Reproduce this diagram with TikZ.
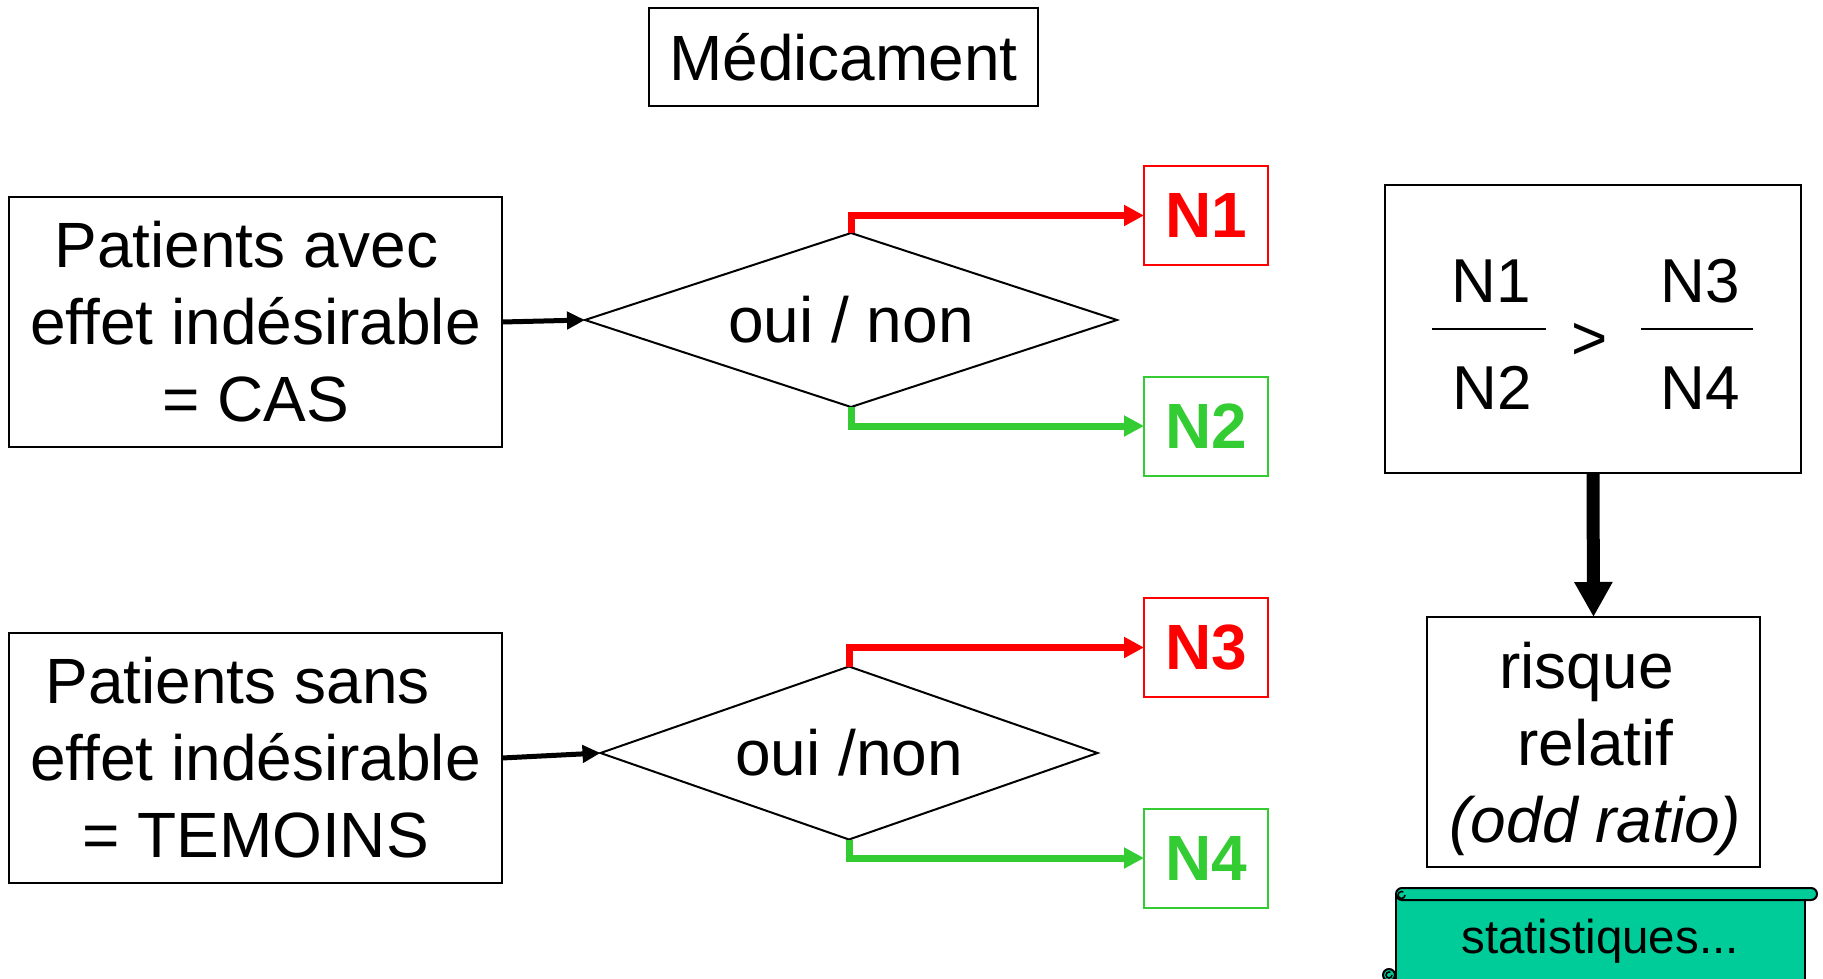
\documentclass[tikz,border=0pt]{standalone}
\usepackage{fontspec}
\setmainfont{Liberation Sans}
\usetikzlibrary{arrows.meta,shapes.geometric}
\definecolor{nred}{RGB}{255,0,0}
\definecolor{ngreen}{RGB}{51,204,51}
\definecolor{scrollgreen}{RGB}{0,204,153}

\begin{document}
\begin{tikzpicture}[x=1pt,y=-1pt,
  every node/.style={font=\fontsize{64}{77}\selectfont, inner sep=0pt, outer sep=0pt},
  box/.style={draw, line width=2pt, align=center},
  decision/.style={draw, line width=2pt, diamond, shape aspect=3},
  nbox/.style={draw=#1, text=#1, line width=2pt, minimum width=124, minimum height=99,
               font=\fontsize{64}{77}\selectfont\bfseries},
  fracpart/.style={anchor=base, font=\fontsize{62}{74}\selectfont},
  feed/.style={line width=5pt, -{Triangle[length=18pt,width=17pt]}},
  branch/.style={draw=#1, line width=7pt, -{Triangle[length=20pt,width=20pt]}},
  bigarrow/.style={line width=13pt, -{Triangle[length=35pt,width=36pt]}}
]
\useasboundingbox (0,0) rectangle (1823,979);

% title
\node[box, minimum width=389, minimum height=98] (med) at (843.5,57) {Médicament};

% the two patient groups
\node[box, minimum width=493, minimum height=250] (cas) at (255.5,322)
  {Patients avec\kern0.28em\\effet indésirable\\= CAS};
\node[box, minimum width=493, minimum height=250] (tem) at (255.5,758)
  {Patients sans\kern0.56em\\effet indésirable\\= TEMOINS};

% exposure questions
\node[decision, minimum width=532, minimum height=174] (d1) at (851,320) {oui / non};
\node[decision, minimum width=497, minimum height=173] (d2) at (849,753) {oui /non};

% counts
\node[nbox=nred]   (n1) at (1206,215.5) {N1};
\node[nbox=ngreen] (n2) at (1206,426)   {N2};
\node[nbox=nred]   (n3) at (1206,647.5) {N3};
\node[nbox=ngreen] (n4) at (1206,858)   {N4};

% connectors
\draw[feed] (cas.east) -- (d1.west);
\draw[feed] (tem.east) -- (d2.west);
\draw[branch=nred]   (d1.north) |- (n1.west);
\draw[branch=ngreen] (d1.south) |- (n2.west);
\draw[branch=nred]   (d2.north) |- (n3.west);
\draw[branch=ngreen] (d2.south) |- (n4.west);

% ratio comparison
\node[box, minimum width=416, minimum height=288] (ratio) at (1593,329) {};
\node[fracpart] (f1) at (1491,302) {N1};
\node[fracpart] (f2) at (1492,409) {N2};
\node[fracpart] (f3) at (1700,302) {N3};
\node[fracpart] (f4) at (1700,409) {N4};
\node[fracpart] (gt) at (1590,359) {>};
\draw[line width=2pt] (1432,329) -- (1546,329);
\draw[line width=2pt] (1641,329) -- (1753,329);

% result
\node[box, minimum width=333, minimum height=250] (rr) at (1593.5,742) {};
\node[align=center] (rrtext) at ([yshift=-7pt, xshift=2pt]rr.center)
  {risque\kern0.28em\\relatif\\\textit{(odd ratio)}};
\draw[bigarrow] (ratio.south) -- (rr.north);

% scroll banner
\draw[line width=2pt, fill=scrollgreen] (1396,894) rectangle (1805,1000);
\draw[line width=2pt, fill=scrollgreen, rounded corners=6pt] (1396,888) rectangle (1817,900);
\draw[line width=1.6pt] (1405,895) arc (0:300:3.5);
\draw[line width=2pt, fill=scrollgreen] (1389,975) circle (6);
\draw[line width=1.6pt] (1392,975) arc (0:300:3);
\node[anchor=base, font=\fontsize{47.5}{57}\selectfont] (stat) at (1600,953) {statistiques...};
\end{tikzpicture}
\end{document}
